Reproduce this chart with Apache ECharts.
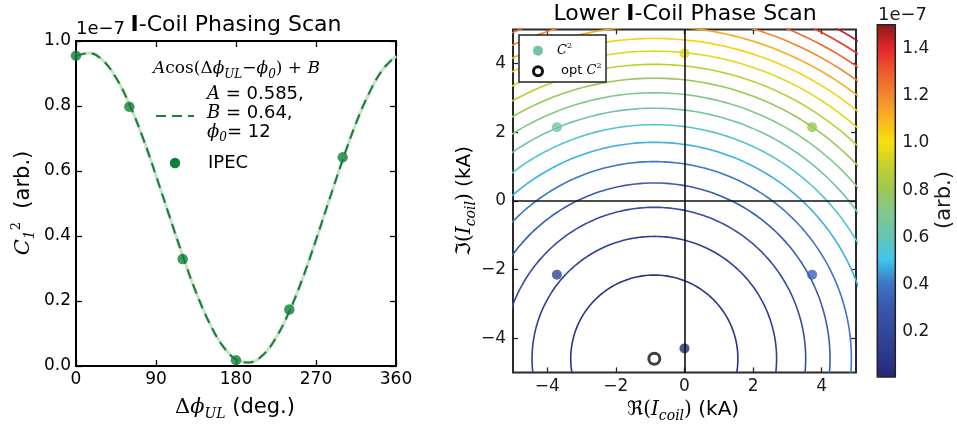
<!DOCTYPE html>
<html><head><meta charset="utf-8">
<script src="https://cdn.jsdelivr.net/npm/echarts@6/dist/echarts.min.js"></script>
<style>html,body{margin:0;padding:0;background:#fff}#c{width:957px;height:428px}</style>
</head><body><div id="c"></div>
<script>
// ---------- Left panel data ----------
const phaseDeg = [0, 60, 120, 180, 240, 300];
const ipecValues = [0.955, 0.798, 0.329, 0.018, 0.174, 0.642];
const fitPhase = [0,15,30,45,60,75,90,105,120,135,150,165,180,195,210,225,240,255,270,285,300,315,330,345,360];
const fitValues = [0.954,0.963,0.941,0.887,0.806,0.704,0.586,0.462,0.340,0.227,0.133,0.062,0.020,0.011,0.033,0.087,0.168,0.270,0.388,0.512,0.634,0.747,0.841,0.912,0.954];
const phaseTicks = [0, 90, 180, 270, 360];
const c2Ticks = [0, 0.2, 0.4, 0.6, 0.8, 1.0];

// ---------- Right panel data ----------
const scanRe = [0, 3.72, 3.72, 0, -3.72, -3.72];
const scanIm = [4.30, 2.15, -2.15, -4.30, -2.15, 2.15];
const optPoint = [-0.88, -4.60];
const fieldMin = 0.0098;      // C^2 at optimum
const fieldSlope = 0.01182;   // C^2 growth per kA^2
const contourLevels = [0.08,0.16,0.24,0.32,0.40,0.48,0.56,0.64,0.72,0.80,0.88,0.96,1.04,1.12,1.20,1.28,1.36,1.44];
const reImTicks = [-4, -2, 0, 2, 4];
const colorbarTicks = [0.2, 0.4, 0.6, 0.8, 1.0, 1.2, 1.4];
const cbarMin = 0.01, cbarMax = 1.5;
const cmapColors = ['#262878','#2c3a8c','#33489c','#3858ac','#3c78c6','#3ec6ec','#68c4b0','#80c890','#9cc850','#c4d030','#f8e00c','#f8b420','#f28630','#ee5a2e','#e4262a','#8a1a1a'];

function hexRgb(h){return [parseInt(h.slice(1,3),16),parseInt(h.slice(3,5),16),parseInt(h.slice(5,7),16)];}
function cmap(v){
  const t = Math.min(1, Math.max(0, (v - cbarMin) / (cbarMax - cbarMin)));
  const n = cmapColors.length - 1, p = t * n, i = Math.min(n - 1, Math.floor(p)), f = p - i;
  const a = hexRgb(cmapColors[i]), b = hexRgb(cmapColors[i+1]);
  return 'rgb(' + a.map((x,k)=>Math.round(x + (b[k]-x)*f)).join(',') + ')';
}
function contourPoints(level){
  const r = Math.sqrt((level - fieldMin) / fieldSlope);
  const pts = [];
  for (let a = 0; a <= 360; a += 1) {
    const t = a * Math.PI / 180;
    pts.push([optPoint[0] + r * Math.cos(t), optPoint[1] + r * Math.sin(t)]);
  }
  return pts;
}

const chart = echarts.init(document.getElementById('c'), null, {renderer: 'canvas'});
const FONT = 'DejaVu Sans';
const SERIF = 'DejaVu Serif';
const PHI = '\u03d5';

function frameAxis(grid, pos, min, max, ticks, showLabels, opts) {
  opts = opts || {};
  return Object.assign({
    type: 'value', gridIndex: grid, position: pos, min: min, max: max,
    axisLine: {show: false, onZero: false},
    splitLine: {show: false},
    axisTick: {show: true, inside: true, length: opts.tickLen || 6, customValues: ticks,
      lineStyle: {color: opts.color || '#000', width: 1.3}},
    axisLabel: {show: showLabels, customValues: ticks, fontSize: 17, fontFamily: FONT,
      color: opts.labelColor || '#000', margin: opts.margin || 5, formatter: opts.fmt}
  }, opts.extra || {});
}
const fmt1 = v => v.toFixed(1);
const fmtMinus = v => (v < 0 ? '\u2212' : '') + Math.abs(v);

const series = [];
series.push({type: 'line', xAxisIndex: 0, yAxisIndex: 0, data: fitPhase.map((p,i)=>[p, fitValues[i]]),
  smooth: 0.4, showSymbol: false, silent: true, lineStyle: {color: '#c6e4c6', width: 3.2}, z: 2});
series.push({type: 'line', xAxisIndex: 0, yAxisIndex: 0, data: fitPhase.map((p,i)=>[p, fitValues[i]]),
  smooth: 0.4, showSymbol: false, silent: true, lineStyle: {color: '#1c7a3a', width: 2, type: [10, 6]}, z: 3});
series.push({type: 'scatter', xAxisIndex: 0, yAxisIndex: 0, data: phaseDeg.map((p,i)=>[p, ipecValues[i]]),
  symbolSize: 10.5, itemStyle: {color: '#10803a'}, silent: true, clip: false, z: 4});
contourLevels.forEach(L => {
  series.push({type: 'line', xAxisIndex: 2, yAxisIndex: 2, data: contourPoints(L), showSymbol: false,
    silent: true, clip: true, lineStyle: {color: cmap(L), width: 1.6}, z: 2});
});
series.push({type: 'scatter', xAxisIndex: 2, yAxisIndex: 2, data: [], z: 3, silent: true,
  markLine: {silent: true, symbol: 'none', label: {show: false}, animation: false,
    lineStyle: {color: '#111', width: 1.6, type: 'solid'},
    data: [{xAxis: 0}, {yAxis: 0}]}});
const rightScatterIndex = series.length;
series.push({type: 'scatter', xAxisIndex: 2, yAxisIndex: 2, data: scanRe.map((x,i)=>[x, scanIm[i], ipecValues[i]]),
  symbolSize: 10, silent: true, clip: false, z: 4});
series.push({type: 'scatter', xAxisIndex: 2, yAxisIndex: 2, data: [optPoint], symbolSize: 11, silent: true,
  itemStyle: {color: '#fff', borderColor: '#111', borderWidth: 3}, z: 5});

function rtext(x, y, text, rich, opts) {
  opts = opts || {};
  return {type: 'text', x: x, y: y, rotation: opts.rotation || 0, silent: true, z: 100,
    style: {text: text, rich: rich, fill: opts.fill || '#000', align: opts.align || 'center',
      verticalAlign: 'middle', textAlign: opts.align || 'center', textVerticalAlign: 'middle',
      font: (opts.size || 18) + 'px "' + FONT + '"'}};
}
function richSet(size, color) {
  return {
    t: {fontFamily: FONT, fontSize: size, color: color, lineHeight: size + 6},
    b: {fontFamily: FONT, fontSize: size, fontWeight: 'bold', color: color, lineHeight: size + 6},
    i: {fontFamily: SERIF, fontStyle: 'italic', fontSize: size, color: color, lineHeight: size + 6},
    r: {fontFamily: SERIF, fontSize: size, color: color, lineHeight: size + 6},
    s: {fontFamily: FONT, fontSize: size, color: color, lineHeight: size + 6},
    sub: {fontFamily: SERIF, fontStyle: 'italic', fontSize: Math.round(size*0.68), color: color, lineHeight: Math.round(size*0.68) + 1, verticalAlign: 'bottom'},
    sup: {fontFamily: SERIF, fontSize: Math.round(size*0.62), color: color, lineHeight: Math.round(size*0.62) + 1, verticalAlign: 'top'}
  };
}

const graphics = [
  // titles
  rtext(236, 25, '{b|I}{t|-Coil Phasing Scan}', richSet(22, '#000')),
  rtext(685, 14, '{t|Lower }{b|I}{t|-Coil Phase Scan}', richSet(22, '#1a1a1a')),
  rtext(76, 29, '1e\u22127', null, {align: 'left', size: 18}),
  rtext(878, 15, '1e\u22127', null, {align: 'left', size: 18, fill: '#1a1a1a'}),
  // axis names
  rtext(235, 408, '{r|\u0394}{i|' + PHI + '}{sub|UL}{t| (deg.)}', richSet(21, '#000')),
  rtext(24, 203, '{i|C}{sub|1}{sup|2}{t|  (arb.)}', richSet(21, '#000'), {rotation: Math.PI/2}),
  rtext(683, 410, '{s|\u211c}{r|(}{i|I}{sub|coil}{r|)}{t| (kA)}', richSet(20, '#1a1a1a')),
  rtext(465, 201, '{s|\u2111}{r|(}{i|I}{sub|coil}{r|)}{t| (kA)}', richSet(20, '#1a1a1a'), {rotation: Math.PI/2}),
  rtext(945, 200, '(arb.)', null, {rotation: Math.PI/2, size: 21, fill: '#1a1a1a'}),
  // left legend
  rtext(153, 69, '{i|A}{r|cos(\u0394}{i|' + PHI + '}{sub|UL}{r|\u2212}{i|' + PHI + '}{sub|0}{r|) + }{i|B}', richSet(17, '#000'), {align: 'left'}),
  rtext(207, 94, '{i|A}{t| = 0.585,}', richSet(18, '#000'), {align: 'left'}),
  rtext(207, 113, '{i|B}{t| = 0.64,}', richSet(18, '#000'), {align: 'left'}),
  rtext(207, 132, '{i|' + PHI + '}{sub|0}{t|= 12}', richSet(18, '#000'), {align: 'left'}),
  {type: 'line', silent: true, z: 100, shape: {x1: 156, y1: 116, x2: 194, y2: 116},
    style: {stroke: '#1c7a3a', lineWidth: 2, lineDash: [10, 6]}},
  {type: 'circle', silent: true, z: 100, shape: {cx: 175, cy: 163, r: 5.2}, style: {fill: '#10803a'}},
  rtext(208, 163, 'IPEC', null, {align: 'left', size: 18}),
  // right legend
  {type: 'rect', silent: true, z: 100, shape: {x: 519, y: 35, width: 87, height: 47},
    style: {fill: '#fff', stroke: '#222', lineWidth: 1.5}},
  {type: 'circle', silent: true, z: 101, shape: {cx: 538, cy: 50.7, r: 5}, style: {fill: cmap(ipecValues[5])}},
  rtext(557, 51, '{i|C}{sup|2}', richSet(13, '#1a1a1a'), {align: 'left'}),
  {type: 'circle', silent: true, z: 101, shape: {cx: 538, cy: 71.3, r: 4.5}, style: {fill: '#fff', stroke: '#111', lineWidth: 3}},
  rtext(561, 71, '{t|opt }{i|C}{sup|2}', richSet(13, '#1a1a1a'), {align: 'left'}),
  // colorbar border
  {type: 'rect', silent: true, z: 100, shape: {x: 877.3, y: 24.7, width: 18, height: 352.3},
    style: {fill: 'none', stroke: '#222', lineWidth: 1.5}}
];

const option = {
  animation: false,
  textStyle: {fontFamily: FONT},
  grid: [
    {left: 76, top: 41, width: 320, height: 325, show: true, borderColor: '#000', borderWidth: 2, backgroundColor: 'transparent'},
    {left: 513, top: 29.4, width: 343, height: 343, show: true, borderColor: '#2a2a2a', borderWidth: 2, backgroundColor: 'transparent'},
    {left: 877.3, top: 24.7, width: 18, height: 354.6, show: false}
  ],
  xAxis: [
    frameAxis(0, 'bottom', 0, 360, phaseTicks, true, {margin: 5}),
    frameAxis(0, 'top', 0, 360, phaseTicks, false),
    frameAxis(1, 'bottom', -5, 5, reImTicks, true, {margin: 6, color: '#2a2a2a', labelColor: '#1a1a1a', tickLen: 5, fmt: fmtMinus}),
    frameAxis(1, 'top', -5, 5, reImTicks, false, {color: '#2a2a2a', tickLen: 5}),
    {type: 'value', gridIndex: 2, min: 0, max: 1, show: false}
  ],
  yAxis: [
    frameAxis(0, 'left', 0, 1, c2Ticks, true, {margin: 5, fmt: fmt1}),
    frameAxis(0, 'right', 0, 1, c2Ticks, false),
    frameAxis(1, 'left', -5, 5, reImTicks, true, {margin: 7, color: '#2a2a2a', labelColor: '#1a1a1a', tickLen: 5, fmt: fmtMinus}),
    frameAxis(1, 'right', -5, 5, reImTicks, false, {color: '#2a2a2a', tickLen: 5}),
    frameAxis(2, 'right', 0, 1.5, colorbarTicks, true, {margin: 7, color: '#2a2a2a', labelColor: '#1a1a1a', tickLen: 6, fmt: fmt1})
  ],
  visualMap: {
    type: 'continuous', min: cbarMin, max: cbarMax, dimension: 2, seriesIndex: [rightScatterIndex],
    inRange: {color: cmapColors}, calculable: false, hoverLink: false, realtime: false,
    itemWidth: 18, itemHeight: 352.3, left: 877.3, top: 24.7, padding: 0, orient: 'vertical', text: null
  },
  series: series,
  graphic: graphics
};
chart.setOption(option);
</script>
</body></html>
